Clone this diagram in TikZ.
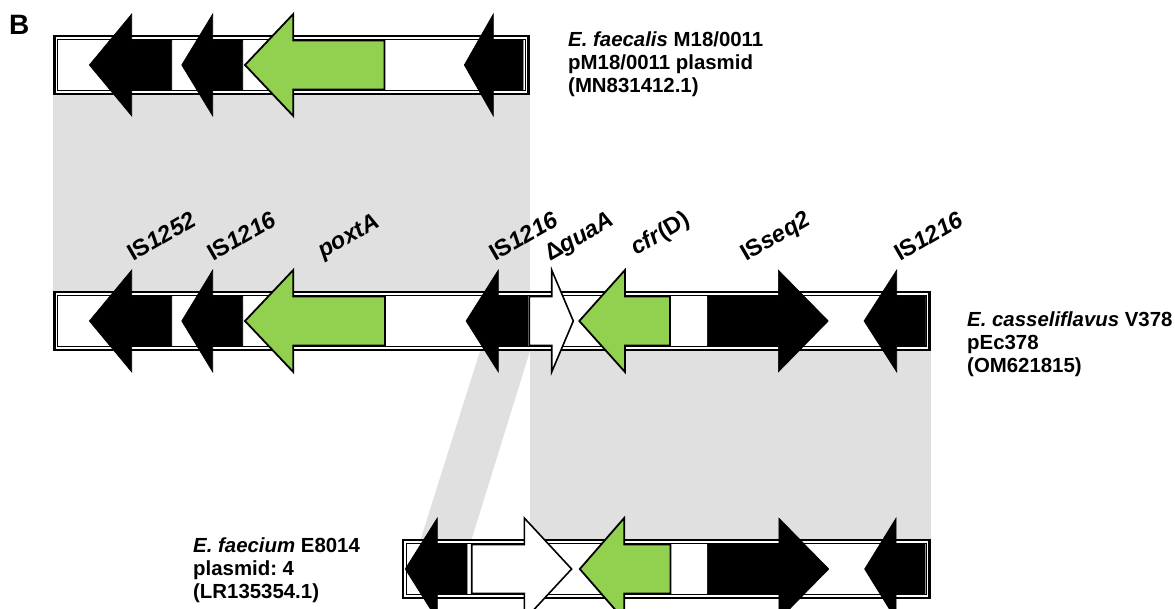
\documentclass[tikz,border=0pt]{standalone}
\usepackage{fontspec}
\setmainfont{Liberation Sans}
\frenchspacing
\definecolor{genegreen}{HTML}{92D050}
\definecolor{linkshade}{HTML}{E0E0E0}

% left-pointing gene: style, tip x, head-base x, body-end x, centre y
\newcommand\lgene[5]{%
  \draw[#1] (#2,#5) -- (#3,#5-51) -- (#3,#5-24.5) -- (#4,#5-24.5)
    -- (#4,#5+24.5) -- (#3,#5+24.5) -- (#3,#5+51) -- cycle;}
% right-pointing gene: style, body-start x, head-base x, tip x, centre y
\newcommand\rgene[5]{%
  \draw[#1] (#4,#5) -- (#3,#5-51) -- (#3,#5-24.5) -- (#2,#5-24.5)
    -- (#2,#5+24.5) -- (#3,#5+24.5) -- (#3,#5+51) -- cycle;}
% contig bar with double border: left x, right x, centre y
\newcommand\contig[3]{%
  \draw[line width=2.6, fill=white] (#1+1.3,#3-29) rectangle (#2-1.3,#3+29);
  \draw[line width=0.8] (#1+4.6,#3-25.6) rectangle (#2-4.6,#3+25.6);}

\begin{document}
\begin{tikzpicture}[x=1pt, y=-1pt,
  blackgene/.style={fill=black, draw=black, line width=0.6, line join=miter},
  greengene/.style={fill=genegreen, draw=black, line width=1.8, line join=miter},
  whitegene/.style={fill=white, draw=black, line width=1.6, line join=miter},
  genelabel/.style={anchor=base west, inner sep=0pt, rotate=30,
    font=\fontsize{23.5}{26}\selectfont\bfseries},
  strainlabel/.style={anchor=base west, inner sep=0pt,
    font=\fontsize{20.4}{24}\selectfont\bfseries},
  shade/.style={fill=linkshade, draw=none}]

\useasboundingbox (0,0) rectangle (1175,609);
\clip (0,0) rectangle (1175,609);

% homology links
\fill[shade] (53,95) rectangle (529.5,291);
\fill[shade] (480,351) -- (530,351) -- (471.7,539) -- (420.7,539) -- cycle;
\fill[shade] (530,351) rectangle (931,539);

% panel letter
\node[anchor=base west, inner sep=0pt, font=\fontsize{28}{30}\selectfont\bfseries] (panel) at (9,35) {B};

% contig 1: E. faecalis pM18/0011
\contig{53}{529.5}{65}
\lgene{blackgene}{89.3}{131.7}{171.7}{65}
\lgene{blackgene}{181.7}{212.7}{242.7}{65}
\lgene{greengene}{245}{293.3}{384.5}{65}
\lgene{blackgene}{464.3}{493.3}{523}{65}

% contig 2: E. casseliflavus pEc378
\contig{53}{931}{321}
\lgene{blackgene}{89.3}{131.7}{171.7}{321}
\lgene{blackgene}{181.7}{212.7}{242.7}{321}
\lgene{greengene}{245}{293.3}{385}{321}
\lgene{blackgene}{466}{498.3}{528}{321}
\rgene{whitegene}{529.3}{551.7}{573.3}{321}
\lgene{greengene}{579.3}{625}{670}{321}
\rgene{blackgene}{707.3}{778.3}{828.3}{321}
\lgene{blackgene}{864}{896.7}{925.7}{321}

% contig 3: E. faecium plasmid 4
\contig{401.5}{931}{569}
\lgene{blackgene}{405.2}{437.3}{467}{569}
\rgene{whitegene}{471.7}{524.3}{571.6}{569}
\lgene{greengene}{579.8}{624.2}{670.4}{569}
\rgene{blackgene}{707.4}{778.8}{828.8}{569}
\lgene{blackgene}{864.6}{896.1}{925}{569}

% gene names
\node[genelabel] (g1) at (133,262) {IS\textit{1252}};
\node[genelabel] (g2) at (213,262) {IS\textit{1216}};
\node[genelabel] (g3) at (323,259) {\textit{poxtA}};
\node[genelabel] (g4) at (495,262) {IS\textit{1216}};
\node[genelabel] (g5) at (550,262) {Δ\textit{guaA}};
\node[genelabel] (g6) at (636,256) {\textit{cfr}(D)};
\node[genelabel] (g7) at (746,262) {IS\textit{seq2}};
\node[genelabel] (g8) at (900,262) {IS\textit{1216}};

% strain / plasmid labels
\node[strainlabel] (s1a) at (568,47) {\textit{E. faecalis} M18/0011};
\node[strainlabel] (s1b) at (568,70) {pM18/0011 plasmid};
\node[strainlabel] (s1c) at (568,93) {(MN831412.1)};

\node[strainlabel] (s2a) at (967,327) {\textit{E. casseliflavus} V378};
\node[strainlabel] (s2b) at (967,350) {pEc378};
\node[strainlabel] (s2c) at (967,373) {(OM621815)};

\node[strainlabel] (s3a) at (193,552) {\textit{E. faecium} E8014};
\node[strainlabel] (s3b) at (193,575) {plasmid: 4};
\node[strainlabel] (s3c) at (193,598) {(LR135354.1)};
\end{tikzpicture}
\end{document}
